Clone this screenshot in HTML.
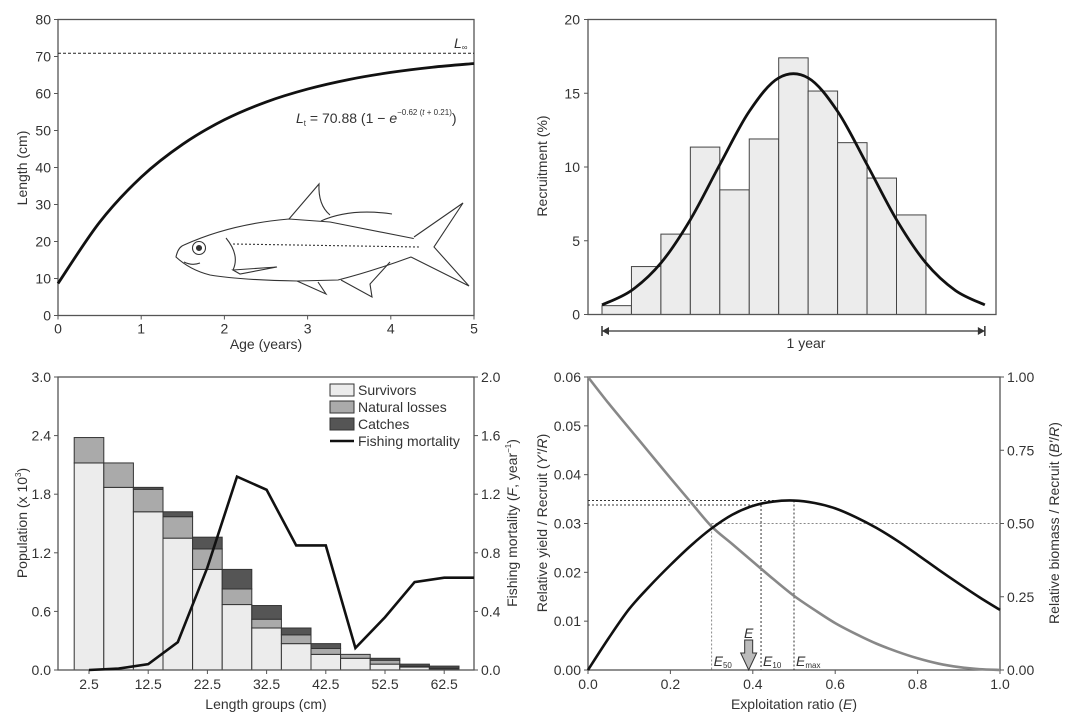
<!DOCTYPE html>
<html><head><meta charset="utf-8"><style>
html,body{margin:0;padding:0;background:#fff}
svg{display:block;font-family:"Liberation Sans",Arial,sans-serif}
text{fill:#333;font-size:14px}
</style></head><body>
<svg id="s" width="1070" height="720" viewBox="0 0 1070 720" xmlns="http://www.w3.org/2000/svg">
<g fill="none" stroke="#333" stroke-width="1.1">
<path d="M176,257 Q178,247 184,245 Q230,224 289,219 L330,222 L411,238 L421,240 L421,255 L411,257 Q370,272 338,280 L297,281 Q240,280 210,275 Q190,270 176,257 Z" fill="#fff"/>
<path d="M414,237 L463,203 L434,247 L469,286 L411,257" fill="#fff"/>
<path d="M289,219 L319,184 Q318,205 330,215"/>
<path d="M321,221 Q350,208 392,214"/>
<circle cx="199" cy="248" r="6.5"/><circle cx="199" cy="248" r="2.5" fill="#333"/>
<path d="M226,238 Q240,255 233,270"/>
<path d="M233,244 L419,247" stroke-dasharray="2,2"/>
<path d="M233,270 L277,267 L240,274 Z"/>
<path d="M297,281 L326,294 L318,282"/>
<path d="M341,280 L372,297 L370,284 L390,262"/>
<path d="M184,262 Q192,266 200,263"/>
</g>
</svg>
<script>
const NS='http://www.w3.org/2000/svg';
const S=document.getElementById('s');
function el(t,a,p){const e=document.createElementNS(NS,t);for(const k in a)e.setAttribute(k,a[k]);(p||S).appendChild(e);return e;}
function tx(x,y,s,a,p){const e=el('text',Object.assign({x:x,y:y},a||{}),p);e.textContent=s;return e;}
function smooth(pts){let d='M'+pts[0][0]+','+pts[0][1];for(let i=0;i<pts.length-1;i++){const p0=pts[i-1]||pts[i],p1=pts[i],p2=pts[i+1],p3=pts[i+2]||p2;d+=' C'+(p1[0]+(p2[0]-p0[0])/6)+','+(p1[1]+(p2[1]-p0[1])/6)+' '+(p2[0]-(p3[0]-p1[0])/6)+','+(p2[1]-(p3[1]-p1[1])/6)+' '+p2[0]+','+p2[1];}return d;}
const AX='#555';

// ===== data =====
const growthAges=[0,0.5,1,1.5,2,2.5,3,3.5,4,4.5,5];
const growthLengths=[8.65,25.2,37.4,46.3,52.9,57.7,61.2,63.8,65.7,67.1,68.1];
const Linf=70.88;
const recruitBars=[0.6,3.25,5.45,11.35,8.45,11.9,17.4,15.15,11.65,9.25,6.75];
const recruitCurve=[0.65,1.63,3.49,6.43,10.16,13.77,16.04,16.04,13.77,10.16,6.43,3.49,1.63,0.65];
const lengthGroups=[2.5,7.5,12.5,17.5,22.5,27.5,32.5,37.5,42.5,47.5,52.5,57.5,62.5];
const survivors=[2.12,1.87,1.62,1.35,1.03,0.67,0.43,0.27,0.16,0.12,0.06,0.03,0.01];
const naturalLosses=[0.26,0.25,0.23,0.22,0.21,0.16,0.09,0.09,0.06,0.04,0.04,0.01,0.01];
const catches=[0,0,0.02,0.05,0.12,0.20,0.14,0.07,0.05,0.00,0.02,0.02,0.02];
const fishingMortality=[0,0.01,0.04,0.19,0.70,1.32,1.23,0.85,0.85,0.15,0.36,0.60,0.63];
const expRatio=[0,0.05,0.1,0.15,0.2,0.25,0.3,0.35,0.4,0.45,0.5,0.55,0.6,0.65,0.7,0.75,0.8,0.85,0.9,0.95,1.0];
const yieldPerRecruit=[0,0.0065,0.0125,0.0172,0.0215,0.0255,0.0290,0.0318,0.0336,0.0345,0.0347,0.0342,0.0331,0.0313,0.0291,0.0265,0.0236,0.0206,0.0177,0.0149,0.0123];
const biomassPerRecruit=[1.0,0.91,0.825,0.74,0.655,0.572,0.49,0.43,0.37,0.31,0.253,0.205,0.16,0.123,0.09,0.063,0.04,0.022,0.01,0.003,0];
const E50=0.3,E10=0.42,Emax=0.5,Ecur=0.39;

// ===== Panel 1: growth =====
{const g=el('g',{});
const X=v=>58+v*(474-58)/5, Y=v=>315.5-v*(296/80);
el('rect',{x:58,y:Y(80),width:416,height:Y(0)-Y(80),fill:'none',stroke:AX,'stroke-width':1.3},g);
for(let v=0;v<=80;v+=10){el('line',{x1:54,x2:58,y1:Y(v),y2:Y(v),stroke:AX},g);tx(51,Y(v)+5,String(v),{'text-anchor':'end'},g);}
for(let v=0;v<=5;v++){el('line',{x1:X(v),x2:X(v),y1:Y(0),y2:Y(0)+4,stroke:AX},g);tx(X(v),Y(0)+18,String(v),{'text-anchor':'middle'},g);}
tx(266,349,'Age (years)',{'text-anchor':'middle'},g);
tx(0,0,'Length (cm)',{'text-anchor':'middle',transform:'translate(27,168) rotate(-90)'},g);
const li=el('line',{x1:58,x2:474,y1:Y(Linf),y2:Y(Linf),stroke:'#222','stroke-dasharray':'3,2'},g);
const lt=tx(454,48,'',{},g);lt.innerHTML='<tspan font-style="italic">L</tspan><tspan font-size="8" dy="2">∞</tspan>';
const c=el('path',{d:smooth(growthAges.map((a,i)=>[X(a),Y(growthLengths[i])])),fill:'none',stroke:'#111','stroke-width':2.8},g);

const eq=tx(296,123,'',{},g);
eq.innerHTML='<tspan font-style="italic">L</tspan><tspan font-size="8" dy="3">t</tspan><tspan dy="-3"> = 70.88 (1 − </tspan><tspan font-style="italic">e</tspan><tspan font-size="8" dy="-8">−0.62 (</tspan><tspan font-size="8" font-style="italic">t</tspan><tspan font-size="8"> + 0.21)</tspan><tspan dy="8">)</tspan>';
}

// ===== Panel 2: recruitment =====
{const g=el('g',{});
const X=m=>602+m*29.45, Y=v=>314.5-v*(295/20);
for(let v=0;v<=20;v+=5){el('line',{x1:584,x2:588,y1:Y(v),y2:Y(v),stroke:AX},g);tx(580,Y(v)+5,String(v),{'text-anchor':'end'},g);}
recruitBars.forEach((v,i)=>{const r=el('rect',{x:X(i),y:Y(v),width:29.45,height:Y(0)-Y(v),fill:'#ececec',stroke:'#444','stroke-width':1},g);
});
el('rect',{x:588,y:Y(20),width:408,height:Y(0)-Y(20),fill:'none',stroke:AX,'stroke-width':1.3},g);
const c=el('path',{d:smooth(recruitCurve.map((v,i)=>[X(i),Y(v)])),fill:'none',stroke:'#111','stroke-width':2.8},g);

tx(0,0,'Recruitment (%)',{'text-anchor':'middle',transform:'translate(547,166) rotate(-90)'},g);
const a=el('g',{},g);
el('line',{x1:X(0),x2:X(13),y1:331,y2:331,stroke:'#333','stroke-width':1.2},a);
el('line',{x1:X(0),x2:X(0),y1:326,y2:336,stroke:'#333','stroke-width':1.5},a);
el('line',{x1:X(13),x2:X(13),y1:326,y2:336,stroke:'#333','stroke-width':1.5},a);
el('path',{d:`M${X(0)},331 l7,-4 v8 z M${X(13)},331 l-7,-4 v8 z`,fill:'#333'},a);
tx(806,348,'1 year',{'text-anchor':'middle'},g);
}

// ===== Panel 3: population =====
{const g=el('g',{});
const bw=29.6, X=l=>89+(l-2.5)/5*bw, Y=v=>670-v*(293/3), Y2=v=>670-v*(293/2);
for(let i=0;i<=5;i++){const v=i*0.6;el('line',{x1:54,x2:58,y1:Y(v),y2:Y(v),stroke:AX},g);tx(51,Y(v)+5,v.toFixed(1),{'text-anchor':'end'},g);}
for(let i=0;i<=5;i++){const v=i*0.4;el('line',{x1:474,x2:478,y1:Y2(v),y2:Y2(v),stroke:AX},g);tx(481,Y2(v)+5,v.toFixed(1),{},g);}
[2.5,12.5,22.5,32.5,42.5,52.5,62.5].forEach(v=>{el('line',{x1:X(v),x2:X(v),y1:670,y2:674,stroke:AX},g);tx(X(v),689,String(v),{'text-anchor':'middle'},g);});
lengthGroups.forEach((l,i)=>{const x=X(l)-bw/2;let b=0;
[[survivors[i],'#ececec','survivors-bar'],[naturalLosses[i],'#aaaaaa','natural-losses-bar'],[catches[i],'#555555','catches-bar']].forEach(([v,f,n])=>{
if(v<=0)return;const r=el('rect',{x:x,y:Y(b+v),width:bw,height:Y(b)-Y(b+v),fill:f,stroke:'#333','stroke-width':1},g);
b+=v;});});
el('rect',{x:58,y:377,width:416,height:293,fill:'none',stroke:AX,'stroke-width':1.3},g);
const fm=lengthGroups.map((l,i)=>[X(l),Y2(fishingMortality[i])]);fm.push([474,Y2(fishingMortality[fishingMortality.length-1])]);
const p=el('polyline',{points:fm.map(q=>q.join(',')).join(' '),fill:'none',stroke:'#111','stroke-width':2.6},g);

const lg=el('g',{},g);
[['Survivors','#ececec'],['Natural losses','#aaaaaa'],['Catches','#555555']].forEach((it,i)=>{const e=el('g',{},lg);
el('rect',{x:330,y:384+i*17,width:24,height:12,fill:it[1],stroke:'#333'},e);tx(358,395+i*17,it[0],{},e);});
const e4=el('g',{},lg);
el('line',{x1:330,x2:354,y1:441,y2:441,stroke:'#111','stroke-width':2.6},e4);tx(358,446,'Fishing mortality',{},e4);
tx(266,709,'Length groups (cm)',{'text-anchor':'middle'},g);
const yl=tx(0,0,'',{'text-anchor':'middle',transform:'translate(27,523) rotate(-90)'},g);yl.innerHTML='Population (x 10<tspan font-size="8" dy="-6">3</tspan><tspan dy="6">)</tspan>';
const yr=tx(0,0,'',{'text-anchor':'middle',transform:'translate(517,523) rotate(-90)'},g);yr.innerHTML='Fishing mortality (<tspan font-style="italic">F</tspan>, year<tspan font-size="8" dy="-6">−1</tspan><tspan dy="6">)</tspan>';
}

// ===== Panel 4: yield =====
{const g=el('g',{});
const X=v=>588+v*412, Y=v=>670-v*(293/0.06), Y2=v=>670-v*293;
for(let i=0;i<=6;i++){const v=i*0.01;el('line',{x1:584,x2:588,y1:Y(v),y2:Y(v),stroke:AX},g);tx(581,Y(v)+5,v.toFixed(2),{'text-anchor':'end'},g);}
for(let i=0;i<=4;i++){const v=i*0.25;el('line',{x1:1000,x2:1004,y1:Y2(v),y2:Y2(v),stroke:AX},g);tx(1007,Y2(v)+5,v.toFixed(2),{},g);}
for(let i=0;i<=5;i++){const v=i*0.2;el('line',{x1:X(v),x2:X(v),y1:670,y2:674,stroke:AX},g);tx(X(v),689,v.toFixed(1),{'text-anchor':'middle'},g);}
el('rect',{x:588,y:377,width:412,height:293,fill:'none',stroke:AX,'stroke-width':1.3},g);
const ym=yieldPerRecruit[expRatio.indexOf(Emax)], y10=0.0338;
const d='#333';
[[X(0),X(Emax),Y(ym),Y(ym)],[X(0),X(E10),Y(y10),Y(y10)],[X(E50),X(1),Y2(0.5),Y2(0.5)]].forEach((q,i)=>{const l=el('line',{x1:q[0],x2:q[1],y1:q[2],y2:q[3],stroke:i==2?'#888':d,'stroke-dasharray':'2,2'},g);});
[[E50,Y2(0.5),'#888'],[E10,Y(y10),d],[Emax,Y(ym),d]].forEach(q=>{const l=el('line',{x1:X(q[0]),x2:X(q[0]),y1:q[1],y2:670,stroke:q[2],'stroke-dasharray':'2,2'},g);});
const b=el('path',{d:smooth(expRatio.map((e,i)=>[X(e),Y2(biomassPerRecruit[i])])),fill:'none',stroke:'#888','stroke-width':2.6},g);

const y=el('path',{d:smooth(expRatio.map((e,i)=>[X(e),Y(yieldPerRecruit[i])])),fill:'none',stroke:'#111','stroke-width':2.6},g);

const ax=X(Ecur);const ar=el('path',{d:`M${ax-4},640 h8 v13 h4 l-8,17 l-8,-17 h4 z`,fill:'#bbb',stroke:'#333','stroke-width':1},g);

tx(ax,638,'E',{'text-anchor':'middle','font-style':'italic','font-size':'15'},g);
[[E50,'50'],[E10,'10'],[Emax,'max']].forEach(q=>{const t=tx(X(q[0])+2,666,'',{},g);t.innerHTML='<tspan font-style="italic">E</tspan><tspan font-size="8" dy="2">'+q[1]+'</tspan>';});
tx(794,709,'',{'text-anchor':'middle'},g).innerHTML='Exploitation ratio (<tspan font-style="italic">E</tspan>)';
tx(0,0,'',{'text-anchor':'middle',transform:'translate(547,523) rotate(-90)'},g).innerHTML="Relative yield / Recruit (<tspan font-style='italic'>Y'</tspan>/<tspan font-style='italic'>R</tspan>)";
tx(0,0,'',{'text-anchor':'middle',transform:'translate(1059,523) rotate(-90)'},g).innerHTML="Relative biomass / Recruit (<tspan font-style='italic'>B'</tspan>/<tspan font-style='italic'>R</tspan>)";
}
</script>
</body></html>
